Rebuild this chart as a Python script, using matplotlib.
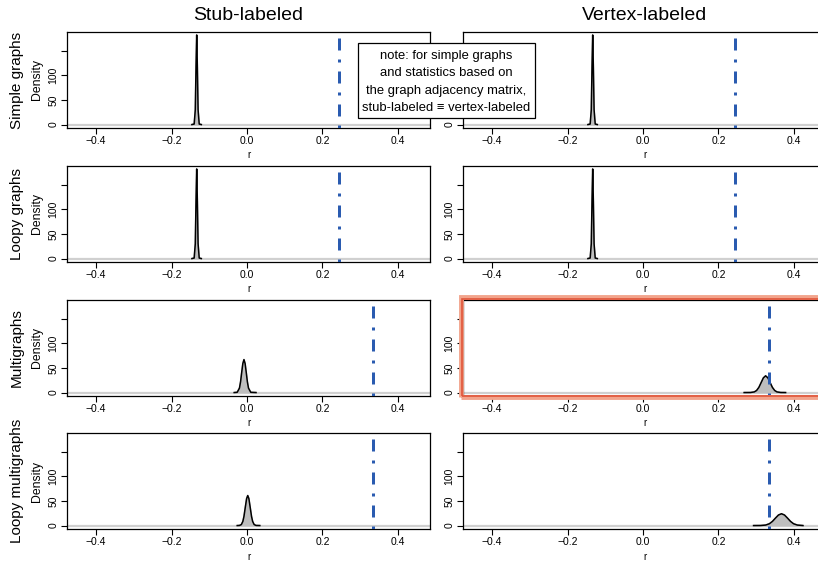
import matplotlib.pyplot as plt
from matplotlib.patches import Rectangle

plt.rcParams['font.family'] = ['Liberation Sans', 'DejaVu Sans']

col_titles = ['Stub-labeled', 'Vertex-labeled']
row_titles = ['Simple graphs', 'Loopy graphs', 'Multigraphs', 'Loopy multigraphs']

# density curves (r, density)
spike_x = [-0.146, -0.140, -0.137, -0.135, -0.1333, -0.1316, -0.1296, -0.1266, -0.121]
spike_y = [0, 1, 30, 120, 182, 120, 30, 1, 0]

multi_stub_x = [-0.034, -0.026, -0.020, -0.017, -0.014, -0.011, -0.008,
                -0.005, -0.002, 0.001, 0.004, 0.010, 0.024]
multi_stub_y = [0, 0.5, 9, 22, 41, 59, 67, 59, 41, 22, 9, 0.5, 0]

multi_vert_x = [0.268, 0.285, 0.295, 0.301, 0.307, 0.313, 0.319, 0.325,
                0.331, 0.337, 0.343, 0.349, 0.355, 0.365, 0.378]
multi_vert_y = [0, 0.1, 1.3, 4.2, 10.4, 20.1, 29.8, 34, 29.8, 20.1, 10.4, 4.2, 1.3, 0.1, 0]

lmulti_stub_x = [-0.026, -0.020, -0.015, -0.011, -0.008, -0.0045, -0.001, 0.002,
                 0.005, 0.0085, 0.012, 0.015, 0.019, 0.024, 0.034]
lmulti_stub_y = [0, 0.2, 2, 8.3, 18.7, 37, 54.8, 61, 54.8, 37, 18.7, 8.3, 2, 0.2, 0]

lmulti_vert_x = [0.293, 0.312, 0.325, 0.335, 0.343, 0.351, 0.359, 0.367,
                 0.375, 0.383, 0.391, 0.399, 0.409, 0.424]
lmulti_vert_y = [0, 0.1, 1, 3.7, 8.4, 15.1, 21.4, 24, 21.4, 15.1, 8.4, 3.7, 1, 0]

curves = [
    [(spike_x, spike_y), (spike_x, spike_y)],
    [(spike_x, spike_y), (spike_x, spike_y)],
    [(multi_stub_x, multi_stub_y), (multi_vert_x, multi_vert_y)],
    [(lmulti_stub_x, lmulti_stub_y), (lmulti_vert_x, lmulti_vert_y)],
]
observed_r = [0.2437, 0.2437, 0.335, 0.335]

xticks = [-0.4, -0.2, 0.0, 0.2, 0.4]
xtick_labels = ['\u22120.4', '\u22120.2', '0.0', '0.2', '0.4']
yticks = [0, 50, 100, 150]
ytick_labels = ['0', '50', '100', '']

note = ('note: for simple graphs\nand statistics based on\n'
        'the graph adjacency matrix,\nstub-labeled \u2261 vertex-labeled')

W, H = 818, 562
fig = plt.figure(figsize=(W / 100, H / 100), dpi=100)

col_left = [67, 463]
ax_w = 363
ax_h = 96
row_top = [32, 166, 300, 433]


def px(x, y, w, h):
    return [x / W, 1 - (y + h) / H, w / W, h / H]


blue = '#2a5bb0'
for i in range(4):
    for j in range(2):
        ax = fig.add_axes(px(col_left[j], row_top[i], ax_w, ax_h))
        ax.set_xlim(-0.477, 0.485)
        ax.set_ylim(-7, 188)
        ax.axhline(0, color='#d0d0d0', lw=1.6, zorder=1)
        cx, cy = curves[i][j]
        ax.fill(cx, cy, color='#bebebe', zorder=2)
        ax.plot(cx, cy, color='black', lw=1.1, zorder=3)
        ax.axvline(observed_r[i], color=blue, lw=2.16, dashes=(1, 3, 4, 3),
                   solid_capstyle='butt', dash_capstyle='butt', zorder=4)
        ax.set_xticks(xticks)
        ax.set_xticklabels(xtick_labels)
        ax.set_yticks(yticks)
        labels = ytick_labels
        if i == 0 and j == 1:
            # these sit under the note box in the original
            labels = ['0', '', '', '']
        ax.set_yticklabels(labels, rotation=90, va='center')
        ax.tick_params(labelsize=7.5, length=4, width=0.8, pad=2)
        ax.set_xlabel('r', fontsize=7, labelpad=3)
        for s in ax.spines.values():
            s.set_linewidth(0.9)
        if j == 0:
            yc = 1 - (row_top[i] + ax_h / 2) / H
            fig.text(17 / W, yc, row_titles[i], rotation=90, ha='center',
                     va='center', fontsize=11)
            fig.text(37 / W, yc, 'Density', rotation=90, ha='center',
                     va='center', fontsize=8.8)
        if i == 0:
            fig.text((col_left[j] + ax_w / 2) / W, 1 - 15 / H, col_titles[j],
                     ha='center', va='center', fontsize=14)

# note box across the top row
fig.patches.append(Rectangle((358 / W, 1 - 118 / H), 177 / W, 75 / H,
                             transform=fig.transFigure, facecolor='white',
                             edgecolor='black', lw=0.9, zorder=10))
fig.text(446.5 / W, 1 - 82 / H, note, ha='center', va='center',
         fontsize=9.4, linespacing=1.62, zorder=11)

# highlight around the vertex-labeled multigraph panel
fig.patches.append(Rectangle((461 / W, 1 - 397 / H), 370 / W, 100 / H,
                             transform=fig.transFigure, fill=False,
                             edgecolor='#f2a48c', lw=3.5, zorder=12))
fig.patches.append(Rectangle((462.5 / W, 1 - 395.5 / H), 370 / W, 97 / H,
                             transform=fig.transFigure, fill=False,
                             edgecolor='#e0553a', lw=1.2, zorder=13))

fig.savefig('out.png', dpi=100)
